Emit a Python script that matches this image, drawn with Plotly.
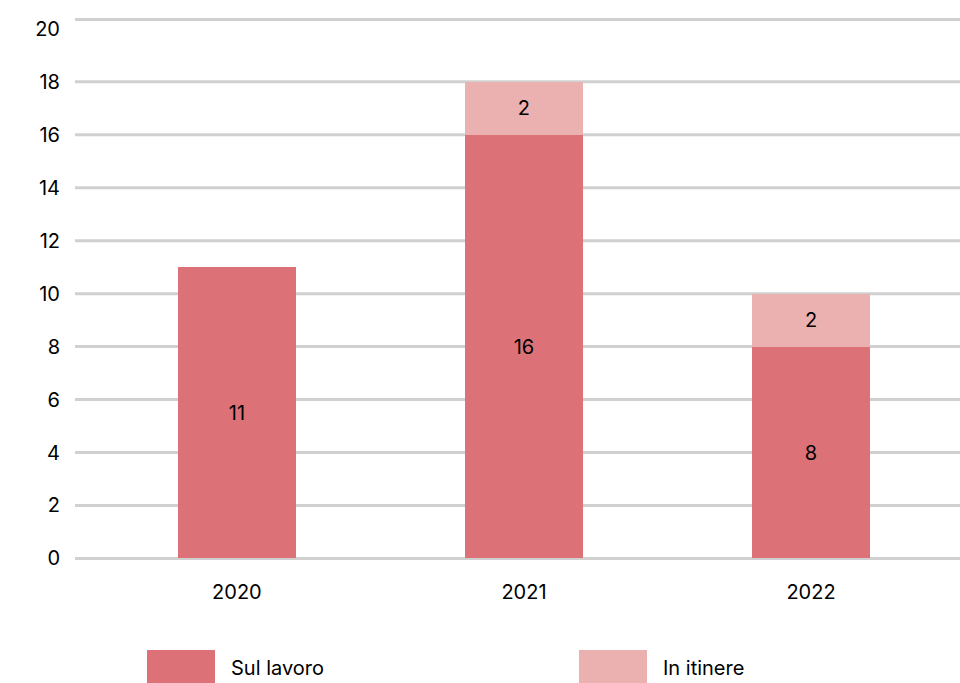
import plotly.graph_objects as go

years = ["2020", "2021", "2022"]
sul_lavoro = [11, 16, 8]
in_itinere = [0, 2, 2]
y_ticks = list(range(0, 21, 2))
grid_vals = list(range(0, 19, 2))
y_max = 20.35
pad = 0.06

c_sul = "#DC7278"
c_itin = "#EBB1B0"
grid_c = "#D0D0D0"
font_fam = "Inter, 'Noto Sans', sans-serif"

fig = go.Figure()
fig.add_trace(go.Bar(
    x=[0, 1, 2], y=sul_lavoro, name="Sul lavoro",
    marker=dict(color=c_sul, line=dict(width=0)),
    width=0.411,
    text=[str(v) for v in sul_lavoro], textposition="inside",
    insidetextanchor="middle",
    textfont=dict(color="black", size=20, family=font_fam),
    hoverinfo="skip",
))
fig.add_trace(go.Bar(
    x=[0, 1, 2], y=in_itinere, name="In itinere",
    marker=dict(color=c_itin, line=dict(width=0)),
    width=0.411,
    text=[str(v) if v else "" for v in in_itinere], textposition="inside",
    insidetextanchor="middle",
    textfont=dict(color="black", size=20, family=font_fam),
    hoverinfo="skip",
))

fig.update_layout(
    barmode="stack",
    width=960, height=683,
    margin=dict(l=75, r=0, t=18, b=123),
    paper_bgcolor="white", plot_bgcolor="white",
    showlegend=False,
    font=dict(family=font_fam, size=20, color="black"),
    uniformtext=dict(mode="show", minsize=10),
)
fig.update_xaxes(
    range=[-0.564, 2.519],
    tickmode="array", tickvals=[0, 1, 2], ticktext=years,
    showgrid=False, zeroline=False, showline=False,
    ticks="", ticklabelstandoff=18,
    tickfont=dict(size=20, color="black"),
)
fig.update_yaxes(
    range=[-pad, y_max + pad], tickmode="array", tickvals=y_ticks,
    showgrid=False, zeroline=False,
    showline=False, ticks="", ticklabelstandoff=14,
    tickfont=dict(size=20, color="black"),
)

# gridlines (below bars)
for gv in grid_vals + [y_max]:
    fig.add_shape(type="line", xref="paper", yref="y", x0=0, x1=1,
                  y0=gv, y1=gv, line=dict(color=grid_c, width=3),
                  layer="below")

# custom legend (pixel positions converted to paper coords)
legend_items = [("Sul lavoro", c_sul, 147), ("In itinere", c_itin, 579)]
top, bot = 18, 123
ph = 683 - top - bot
def py(pix):
    return (683 - bot - pix) / ph
for label, col, x0 in legend_items:
    fig.add_shape(type="rect", xref="paper", yref="paper",
                  x0=(x0 - 75) / 885, x1=(x0 + 68 - 75) / 885,
                  y0=py(683), y1=py(650),
                  fillcolor=col, line=dict(width=0))
    fig.add_annotation(text=label, xref="paper", yref="paper",
                       x=(x0 + 82 - 75) / 885, y=py(668),
                       xanchor="left", yanchor="middle", showarrow=False,
                       font=dict(size=20, color="black", family=font_fam))

fig.write_html("out.html")
